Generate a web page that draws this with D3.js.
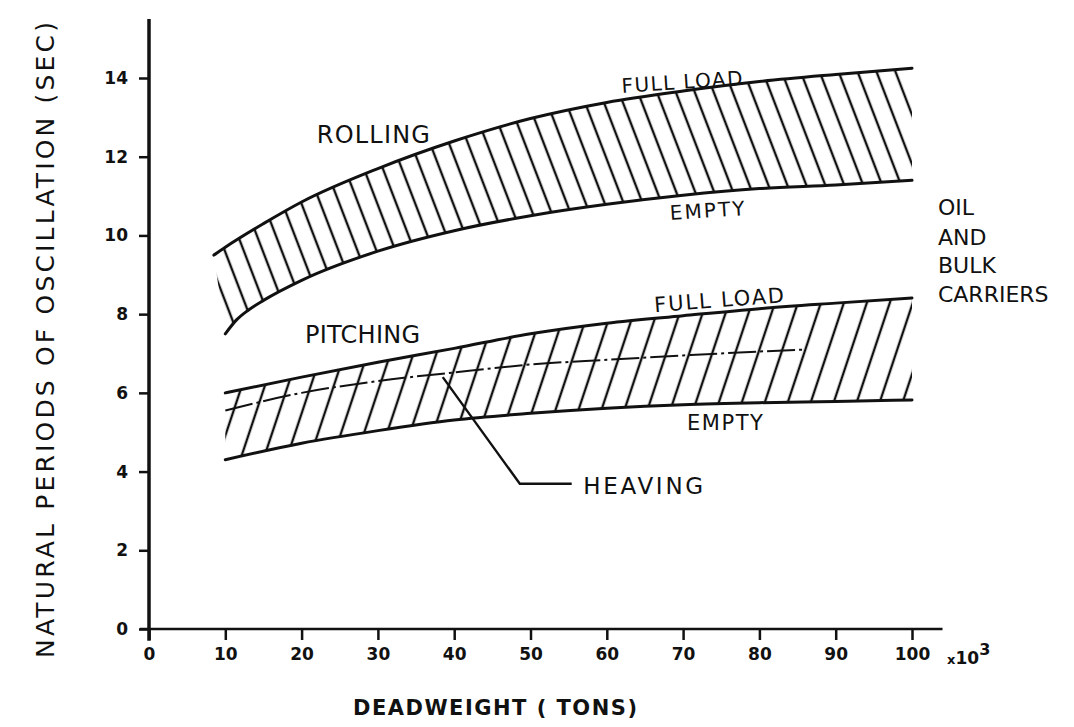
<!DOCTYPE html>
<html>
<head>
<meta charset="utf-8">
<title>Natural periods of oscillation</title>
<script src="https://cdn.jsdelivr.net/npm/d3@7"></script>
<style>
body { margin: 0; background: #fff; }
svg text { font-family: "DejaVu Sans", "Liberation Sans", sans-serif; fill: #111; }
.curve { fill: none; stroke: #111; stroke-width: 3px; stroke-linecap: round; }
.heave { fill: none; stroke: #111; stroke-width: 2px; stroke-dasharray: 28 4 3 4; }
.tick text { font-size: 17px; font-weight: bold; }
.tick line { stroke: #111; stroke-width: 2.5px; }
</style>
</head>
<body>
<svg width="1074" height="727"></svg>
<script>

// deadweight (x10^3 tons) and period (sec)
var rollFullX  = [8.5, 10, 15, 20, 30, 40, 50, 60, 70, 80, 90, 100];
var rollFull   = [9.5, 9.7, 10.3, 10.85, 11.7, 12.4, 12.97, 13.38, 13.67, 13.91, 14.09, 14.25];
var rollEmptyX = [10, 11.5, 13, 15, 20, 30, 40, 50, 60, 70, 80, 90, 100];
var rollEmpty  = [7.5, 7.86, 8.1, 8.35, 8.86, 9.6, 10.12, 10.5, 10.79, 11.02, 11.19, 11.28, 11.4];
var pitchX     = [10, 20, 30, 40, 50, 60, 70, 80, 90, 100];
var pitchFull  = [6.0, 6.4, 6.78, 7.13, 7.5, 7.77, 7.96, 8.14, 8.28, 8.41];
var pitchEmpty = [4.3, 4.72, 5.04, 5.31, 5.48, 5.61, 5.7, 5.75, 5.78, 5.82];
var heaveX     = [10, 20, 30, 40, 50, 60, 70, 80, 86];
var heave      = [5.55, 6.0, 6.3, 6.52, 6.72, 6.84, 6.95, 7.05, 7.1];

var xTicks = [0, 10, 20, 30, 40, 50, 60, 70, 80, 90, 100];
var yTicks = [0, 2, 4, 6, 8, 10, 12, 14];

var svg = d3.select("svg"),
    margin = {top: 78, left: 149},
    width = 763,
    height = 551;

var x = d3.scaleLinear().domain([0, 100]).range([0, width]);
var y = d3.scaleLinear().domain([0, 14]).range([height, 0]);

var g = svg.append("g").attr("transform", "translate(" + margin.left + "," + margin.top + ")");

function pts(xs, ys) { return xs.map(function(v, i) { return [v, ys[i]]; }); }

var line = d3.line()
    .x(function(d) { return x(d[0]); })
    .y(function(d) { return y(d[1]); })
    .curve(d3.curveMonotoneX);

// hatch patterns
var defs = svg.append("defs");
function hatch(id, spacing, angle) {
  var p = defs.append("pattern")
      .attr("id", id)
      .attr("patternUnits", "userSpaceOnUse")
      .attr("width", spacing).attr("height", 20)
      .attr("patternTransform", "rotate(" + angle + ")");
  p.append("line")
      .attr("x1", spacing / 2).attr("x2", spacing / 2)
      .attr("y1", -2).attr("y2", 22)
      .attr("stroke", "#111").attr("stroke-width", 2.4);
}
hatch("hRoll", 17.7, -21);
hatch("hPitch", 21.8, 18.4);

function bandPath(top, bottom) {
  var a = line(top);
  var b = line(bottom.slice().reverse());
  return a + "L" + b.slice(1) + "Z";
}

g.append("path")
    .attr("d", bandPath(pts(rollFullX, rollFull), pts(rollEmptyX, rollEmpty)))
    .attr("fill", "url(#hRoll)");
g.append("path")
    .attr("d", bandPath(pts(pitchX, pitchFull), pts(pitchX, pitchEmpty)))
    .attr("fill", "url(#hPitch)");

// boundary curves
[pts(rollFullX, rollFull), pts(rollEmptyX, rollEmpty), pts(pitchX, pitchFull), pts(pitchX, pitchEmpty)]
  .forEach(function(s) {
    g.append("path").attr("class", "curve").attr("d", line(s));
  });

g.append("path").attr("class", "heave").attr("d", line(pts(heaveX, heave)));

// heaving leader
var leader = [[38.5, 6.4], [48.6, 3.69], [55.4, 3.69]];
g.append("path")
    .attr("d", d3.line().x(function(d) { return x(d[0]); }).y(function(d) { return y(d[1]); })(leader))
    .attr("fill", "none").attr("stroke", "#111").attr("stroke-width", 2.4);

// axes
var xAxis = d3.axisBottom(x).tickValues(xTicks)
    .tickSize(11).tickPadding(8).tickSizeOuter(0);
var yAxis = d3.axisLeft(y).tickValues(yTicks)
    .tickSize(10).tickPadding(11).tickSizeOuter(0);

var gx = g.append("g").attr("transform", "translate(0," + height + ")").call(xAxis);
var gy = g.append("g").call(yAxis);
gx.select(".domain").remove();
gy.select(".domain").remove();
gx.attr("font-family", null);
gy.attr("font-family", null);

g.append("line")
    .attr("x1", x(-1.2)).attr("x2", x(104))
    .attr("y1", y(0)).attr("y2", y(0))
    .attr("stroke", "#111").attr("stroke-width", 2.5);
g.append("line")
    .attr("x1", x(0)).attr("x2", x(0))
    .attr("y1", y(-0.3)).attr("y2", y(15.5))
    .attr("stroke", "#111").attr("stroke-width", 3.5);

// x10^3
var ex = g.append("text")
    .attr("x", x(104.6)).attr("y", height + 35)
    .style("font-size", "17px").style("font-weight", "bold");
ex.append("tspan").style("font-size", "13px").text("x");
ex.append("tspan").text("10");
ex.append("tspan").attr("dy", -9).style("font-size", "16px").text("3");

// axis titles
svg.append("text")
    .attr("x", 495).attr("y", 715)
    .attr("text-anchor", "middle")
    .attr("textLength", 284)
    .style("font-size", "21px").style("font-weight", "bold")
    .text("DEADWEIGHT ( TONS)");

svg.append("text")
    .attr("transform", "translate(54,340) rotate(-90)")
    .attr("text-anchor", "middle")
    .attr("textLength", 636)
    .style("font-size", "25px")
    .text("NATURAL PERIODS OF OSCILLATION (SEC)");

// annotations
var notes = [
  {t: "ROLLING",   x: 22.0, y: 12.35, size: 24, len: 113, rot: 0},
  {t: "FULL LOAD", x: 62.0, y: 13.62, size: 20, len: 121, rot: -3.8},
  {t: "EMPTY",     x: 68.3, y: 10.39, size: 20, len: 75,  rot: -3.8},
  {t: "PITCHING",  x: 20.45, y: 7.27, size: 24, len: 115, rot: 0},
  {t: "FULL LOAD", x: 66.3, y: 8.05,  size: 21, len: 130, rot: -4.4},
  {t: "EMPTY",     x: 70.5, y: 5.06,  size: 21, len: 76,  rot: 0},
  {t: "HEAVING",   x: 56.9, y: 3.43,  size: 23, len: 120, rot: 0}
];
g.selectAll(".note").data(notes).enter().append("text")
    .attr("class", "note")
    .attr("transform", function(d) { return "translate(" + x(d.x) + "," + y(d.y) + ") rotate(" + d.rot + ")"; })
    .attr("textLength", function(d) { return d.len; })
    .style("font-size", function(d) { return d.size + "px"; })
    .text(function(d) { return d.t; });

var carrier = ["OIL", "AND", "BULK", "CARRIERS"];
var carrierY = [10.52, 9.76, 9.05, 8.31];
g.selectAll(".carrier").data(carrier).enter().append("text")
    .attr("x", x(103.4))
    .attr("y", function(d, i) { return y(carrierY[i]); })
    .style("font-size", "22px")
    .text(function(d) { return d; });

</script>
</body>
</html>
